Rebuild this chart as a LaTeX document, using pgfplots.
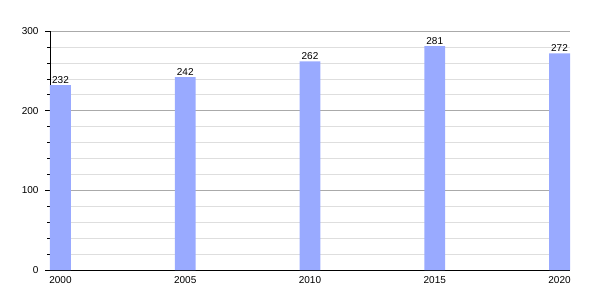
\documentclass[border=0pt]{standalone}
\usepackage{pgfplots}
\pgfplotsset{compat=1.18}
\usepackage{fontspec}
\setmainfont{Liberation Sans}
\definecolor{barblue}{RGB}{153,170,255}
\definecolor{majgrid}{RGB}{170,170,170}
\definecolor{mingrid}{RGB}{222,222,222}
\begin{document}
\begin{tikzpicture}
\begin{axis}[
  scale only axis, width=520pt, height=239pt,
  xmin=1999.58, xmax=2020.42, ymin=0, ymax=300,
  axis x line*=bottom, axis y line*=left,
  axis line style={black, line width=0.8pt},
  xtick={2000,2005,2010,2015,2020},
  x tick style={draw=none},
  ytick={0,100,200,300},
  minor y tick num=4,
  tick align=outside,
  major tick length=5pt, minor tick length=3pt,
  y tick style={black, line width=0.6pt},
  ymajorgrids, yminorgrids,
  major grid style={majgrid, line width=0.6pt},
  minor grid style={mingrid, line width=0.6pt},
  /pgf/number format/assume math mode=true,
  /pgf/number format/1000 sep={},
  tick label style={font=\fontsize{10}{12}\selectfont},
  yticklabel style={xshift=-3pt},
  xticklabel style={yshift=2pt},
  ybar, bar width=0.84,
  nodes near coords,
  nodes near coords style={font=\fontsize{10}{12}\selectfont, inner sep=1.5pt, /pgf/number format/assume math mode=true},
]
\addplot[fill=barblue, draw=none] coordinates {(2000,232) (2005,242) (2010,262) (2015,281) (2020,272)};
\end{axis}
\pgfresetboundingbox
\path (-50pt,-30pt) rectangle (550pt,270pt);
\end{tikzpicture}
\end{document}
